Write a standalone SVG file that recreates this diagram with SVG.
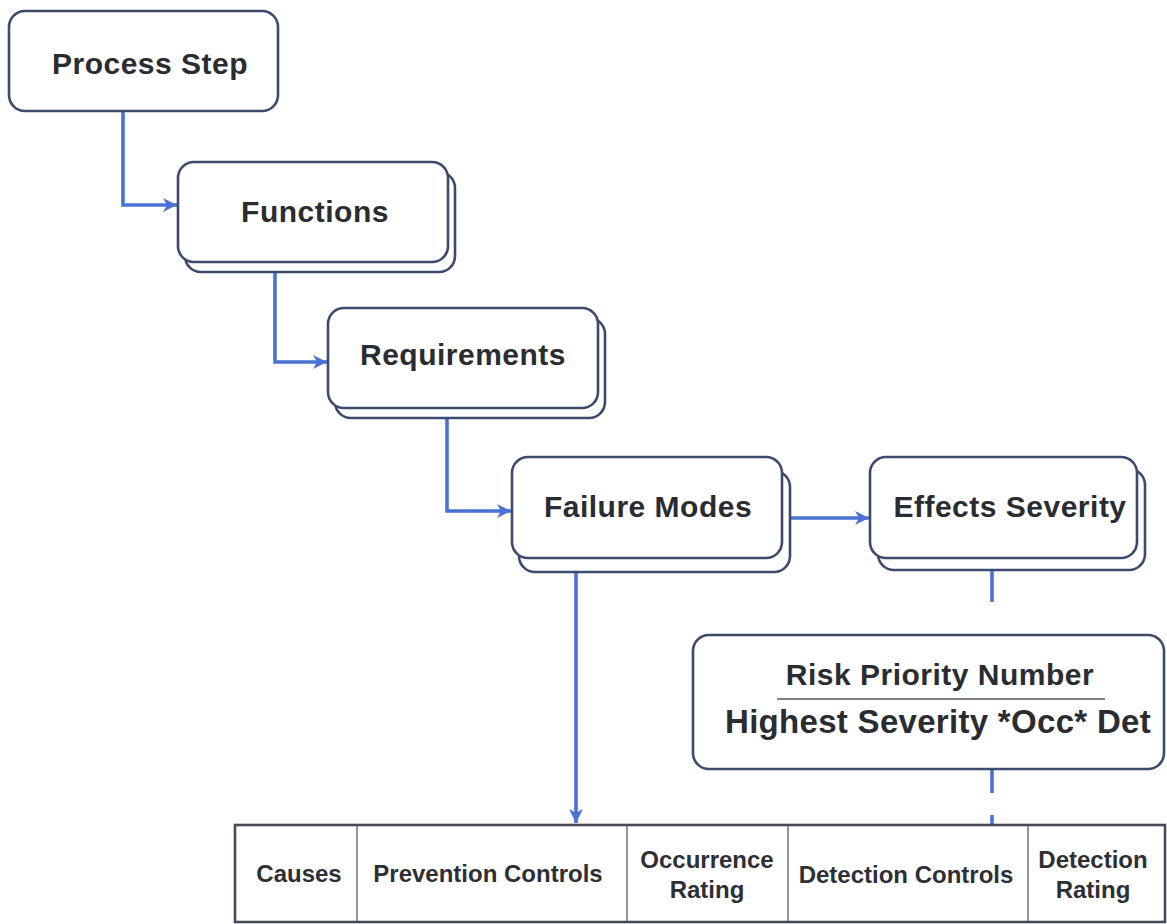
<svg xmlns="http://www.w3.org/2000/svg" width="1167" height="924" viewBox="0 0 1167 924">
<style>
.box{fill:#ffffff;stroke:#3c4a6e;stroke-width:2.6}
.lbl{font-family:"Liberation Sans",Arial,sans-serif;font-weight:bold;font-size:30px;letter-spacing:0.5px;fill:#2b2c31;text-anchor:middle}
.tbl{font-family:"Liberation Sans",Arial,sans-serif;font-weight:bold;font-size:24px;fill:#2e2f34;text-anchor:middle}
.conn{fill:none;stroke:#4a72d2;stroke-width:3.6}
.div{stroke:#7a7d85;stroke-width:1.6}
</style>
<defs>
<marker id="arr" markerUnits="userSpaceOnUse" markerWidth="20" markerHeight="20" refX="17" refY="10" orient="auto">
<path d="M3,3 L17,10 L3,17 L7,10 Z" fill="#4a72d2"/>
</marker>
</defs>
<rect width="1167" height="924" fill="#ffffff"/>
<g id="connectors">
<path class="conn" d="M123,111 V205 H177" marker-end="url(#arr)"/>
<path class="conn" d="M275,272 V362 H327" marker-end="url(#arr)"/>
<path class="conn" d="M447,418 V511 H511" marker-end="url(#arr)"/>
<path class="conn" d="M790,518 H869" marker-end="url(#arr)"/>
<path class="conn" d="M576,572 V823" marker-end="url(#arr)"/>
<path class="conn" d="M992,558 V602"/>
<path class="conn" d="M992,769 V793"/>
<path class="conn" d="M992,815 V825"/>
</g>
<g id="process-step">
<rect class="box" x="9" y="11" width="269" height="100" rx="16"/>
<text class="lbl" x="150" y="74">Process Step</text>
</g>
<g id="functions">
<rect class="box" x="185" y="172" width="270" height="100" rx="16"/>
<rect class="box" x="178" y="162" width="270" height="100" rx="16"/>
<text class="lbl" x="315" y="222">Functions</text>
</g>
<g id="requirements">
<rect class="box" x="335" y="318" width="270" height="100" rx="16"/>
<rect class="box" x="328" y="308" width="270" height="100" rx="16"/>
<text class="lbl" x="463" y="365">Requirements</text>
</g>
<g id="failure-modes">
<rect class="box" x="519" y="471" width="271" height="101" rx="16"/>
<rect class="box" x="512" y="457" width="270" height="101" rx="16"/>
<text class="lbl" x="648" y="517">Failure Modes</text>
</g>
<g id="effects-severity">
<rect class="box" x="878" y="469" width="267" height="101" rx="16"/>
<rect class="box" x="870" y="457" width="267" height="101" rx="16"/>
<text class="lbl" x="1010" y="517">Effects Severity</text>
</g>
<g id="rpn">
<rect class="box" x="693" y="635" width="471" height="134" rx="16"/>
<text class="lbl" x="940" y="685">Risk Priority Number</text>
<line x1="777" y1="699" x2="1105" y2="699" stroke="#55585f" stroke-width="1.6"/>
<text class="lbl" x="938" y="733" style="font-size:33px;letter-spacing:0.3px">Highest Severity *Occ* Det</text>
</g>
<g id="table">
<rect x="235" y="825" width="930" height="97" fill="#ffffff" stroke="#454b58" stroke-width="2.6"/>
<line class="div" x1="357" y1="826" x2="357" y2="921"/>
<line class="div" x1="627" y1="826" x2="627" y2="921"/>
<line class="div" x1="788" y1="826" x2="788" y2="921"/>
<line class="div" x1="1028" y1="826" x2="1028" y2="921"/>
<text class="tbl" x="299" y="882">Causes</text>
<text class="tbl" x="488" y="882">Prevention Controls</text>
<text class="tbl" x="707" y="868">Occurrence</text>
<text class="tbl" x="707" y="898">Rating</text>
<text class="tbl" x="906" y="883">Detection Controls</text>
<text class="tbl" x="1093" y="868">Detection</text>
<text class="tbl" x="1093" y="898">Rating</text>
</g>
</svg>
